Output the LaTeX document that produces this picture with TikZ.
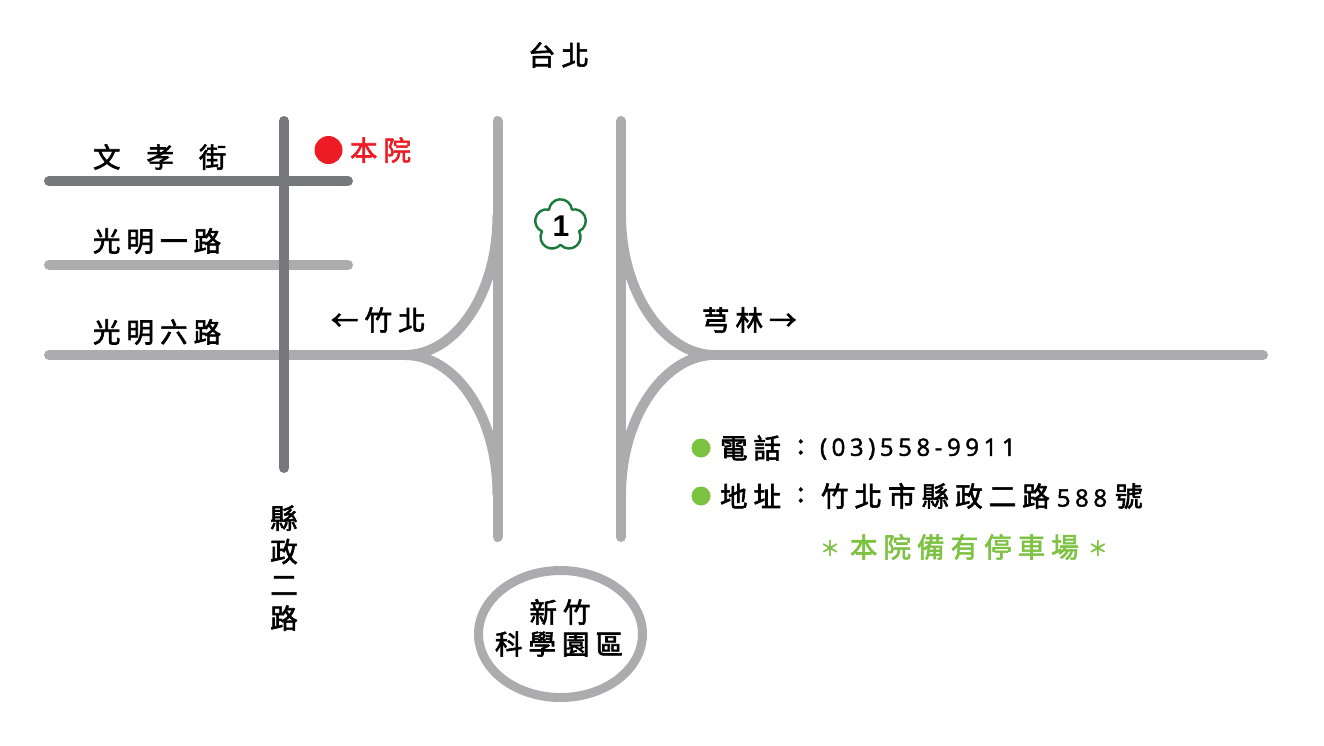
\documentclass[tikz,border=0pt]{standalone}
\usepackage{fontspec}
\usetikzlibrary{shapes.geometric}
\setmainfont{Noto Sans CJK TC}
\newfontfamily\cjk[LetterSpace=22,FakeBold=2.2]{Noto Sans CJK TC}
\newfontfamily\lat[LetterSpace=19,FakeBold=1.8]{Open Sans}
\newfontfamily\latb{Liberation Sans Bold}
\definecolor{roadlight}{HTML}{ACACAE}
\definecolor{roaddark}{HTML}{77787B}
\definecolor{mapred}{HTML}{ED1C24}
\definecolor{mapgreen}{HTML}{7DC242}
\definecolor{flower}{HTML}{1A7A3C}
\tikzset{
  road/.style={draw=roadlight,line width=10pt,line cap=round},
  darkroad/.style={road,draw=roaddark},
  lbl/.style={inner sep=0pt,outer sep=0pt,anchor=west,font=\cjk\fontsize{27.5}{33}\selectfont,text=black},
  redlbl/.style={lbl,text=mapred},
  greenlbl/.style={lbl,text=mapgreen},
  dot/.style={circle,inner sep=0pt,minimum size=#1},
}
\newcommand{\astk}{\raisebox{2pt}{\fontsize{20}{20}\selectfont ＊}}
\begin{document}
\begin{tikzpicture}[x=1pt,y=-1pt]
\useasboundingbox (0,0) rectangle (1324,745);
% coordinates
\coordinate (wtop) at (497.5,121);
\coordinate (wbot) at (497.5,537);
\coordinate (etop) at (621,121);
\coordinate (ebot) at (621,537);
\coordinate (wj) at (405,355);
\coordinate (ej) at (714,355);
\coordinate (wstart) at (49,355);
\coordinate (eend) at (1263,355);
\coordinate (wcu) at (497.5,215);
\coordinate (wcd) at (497.5,495);
\coordinate (ecu) at (621,215);
\coordinate (ecd) at (621,495);
\coordinate (vtop) at (284,121);
\coordinate (vbot) at (284,468);
\coordinate (a1) at (49,181);
\coordinate (a2) at (348,181);
\coordinate (b1) at (49,265);
\coordinate (b2) at (348,265);
% light roads
\draw[road] (b1) -- (b2);
\draw[road] (wstart) -- (wj);
\draw[road] (wtop) -- (wbot);
\draw[road] (etop) -- (ebot);
\draw[road] (ej) -- (eend);
\draw[road,line cap=butt] (wcu) .. controls (497.5,295) and (455,355) .. (wj);
\draw[road,line cap=butt] (wj) .. controls (455,355) and (497.5,415) .. (wcd);
\draw[road,line cap=butt] (ecu) .. controls (621,295) and (666,355) .. (ej);
\draw[road,line cap=butt] (ej) .. controls (666,355) and (621,415) .. (ecd);
% dark roads
\draw[darkroad] (a1) -- (a2);
\draw[darkroad] (vtop) -- (vbot);
% science park
\node[draw=roadlight,line width=9pt,ellipse,minimum width=164pt,minimum height=127pt,inner sep=0pt,outer sep=0pt] (park) at (560.5,634) {};
% freeway sign
\begin{scope}[shift={(560.5,225.3)},y=1pt]
\draw[flower,line width=2.4pt,line join=round]
  (54:19.45)
  arc[start angle=6.2,end angle=173.8,radius=11.5pt]
  arc[start angle=78.2,end angle=245.8,radius=11.5pt]
  arc[start angle=150.2,end angle=317.8,radius=11.5pt]
  arc[start angle=222.2,end angle=389.8,radius=11.5pt]
  arc[start angle=294.2,end angle=461.8,radius=11.5pt]
  -- cycle;
\end{scope}
\node[inner sep=0pt,font=\latb\fontsize{30}{30}\selectfont] (fw) at (561,226) {1};
% labels
\node[lbl] (taipei) at (528,55) {台北};
\node[dot=28pt,fill=mapred] (here) at (328.5,150) {};
\node[redlbl] (herelbl) at (350,150) {本院};
\node[lbl] (wx) at (93,157) {文\hspace{26pt}孝\hspace{25pt}街};
\node[lbl] (gm1) at (93,241) {光明一路};
\node[lbl] (gm6) at (93,332) {光明六路};
\node[lbl] (zb) at (331,320) {←竹北};
\node[lbl] (ql) at (702,320) {芎林→};
\node[lbl,anchor=center,align=center,font=\cjk\fontsize{27.5}{33.3}\selectfont] (xz) at (284,568) {縣\\政\\二\\路};
\node[lbl,anchor=center] (xz1) at (560,612) {新竹};
\node[lbl,anchor=center] (xz2) at (559,644) {科學園區};
% info
\node[dot=19pt,fill=mapgreen] (d1) at (701,448) {};
\node[dot=19pt,fill=mapgreen] (d2) at (701,496) {};
\node[lbl] (tel) at (720,448) {電話};
\node[lbl] (c1) at (797,447) {:};
\node[lbl,font=\lat\fontsize{24}{30}\selectfont] (telno) at (820,449) {(03)558-9911};
\node[lbl] (addr) at (720,496) {地址};
\node[lbl] (c2) at (797,495) {:};
\node[lbl] (addrv) at (821,496) {竹北市縣政二路\hspace{7pt}{\lat\fontsize{24}{30}\selectfont 588}\hspace{8pt}號};
\node[greenlbl] (park2) at (820,547) {\astk\hspace{10pt}本院備有停車場\hspace{9pt}\astk};
\end{tikzpicture}
\end{document}
